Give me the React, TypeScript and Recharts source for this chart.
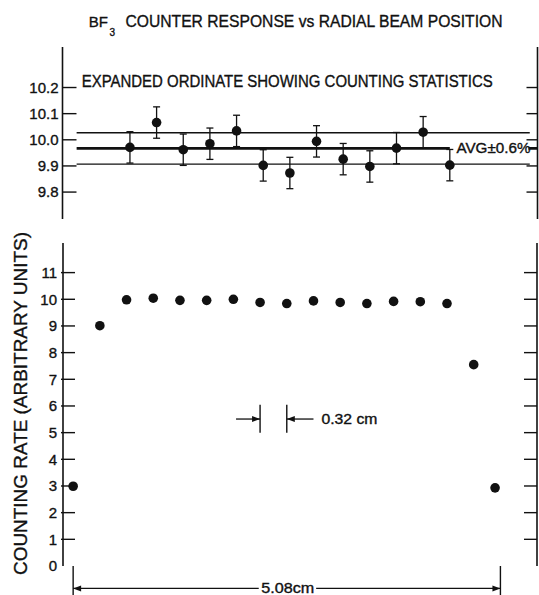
import React from "react";
import {
  ComposedChart,
  Scatter,
  Line,
  XAxis,
  YAxis,
  ErrorBar,
  ReferenceLine,
  ReferenceDot,
} from "recharts";

// expanded ordinate panel: positions 2..14 (tick units, 0.3175 cm each)
const statPos = [2, 3, 4, 5, 6, 7, 8, 9, 10, 11, 12, 13, 14];
const statRate = [9.971, 10.066, 9.962, 9.985, 10.034, 9.902, 9.873, 9.994, 9.926, 9.898, 9.968, 10.029, 9.903];
const statErr = [0.06, 0.06, 0.06, 0.06, 0.06, 0.06, 0.06, 0.06, 0.06, 0.06, 0.06, 0.06, 0.06];

const avgRate = 9.967;
const avgHigh = 10.027;
const avgLow = 9.907;
const bandSpan = [0, 17];
const avgSpan = [0, 14];
const avgStubSpan = [16.95, 17.29];

// full radial scan
const beamPos = [0, 1, 2, 3, 4, 5, 6, 7, 8, 9, 10, 11, 12, 13, 14, 15, 15.8];
const beamRate = [2.99, 9.01, 9.98, 10.04, 9.96, 9.96, 10.0, 9.88, 9.84, 9.94, 9.88, 9.84, 9.92, 9.91, 9.84, 7.55, 2.93];

const posTicks = [0, 1, 2, 3, 4, 5, 6, 7, 8, 9, 10, 11, 12, 13, 14, 15, 16, 17];
const statTicks = [9.8, 9.9, 10.0, 10.1, 10.2];
const rateTicks = [0, 1, 2, 3, 4, 5, 6, 7, 8, 9, 10, 11];

const statData = statPos.map((x, i) => ({ x, y: statRate[i], err: statErr[i] }));
const beamData = beamPos.map((x, i) => ({ x, y: beamRate[i] }));
const seg = (span: number[], y: number) => span.map((x) => ({ x, y }));

const FONT = "'Liberation Sans', Arial, sans-serif";
const INK = "#111";
const TM = 4;
// slight outline so the lettering is as heavy as the inked original
const heavy = { stroke: INK, strokeWidth: 0.35 };

const dot = (p: any) => <circle cx={p.cx} cy={p.cy} r={4.8} fill={INK} />;

function leftTick(len: number, fs: number, fmt: (v: number) => string) {
  return (p: any) => {
    const v = p.payload.value;
    const ax = p.x + TM;
    return (
      <g>
        {v !== 0 && <line x1={ax} x2={ax + len} y1={p.y} y2={p.y} stroke={INK} strokeWidth={1.4} />}
        <text x={p.x} y={p.y} dy={fs * 0.36} textAnchor="end" fontSize={fs} fontFamily={FONT} fill={INK} {...heavy}>
          {fmt(v)}
        </text>
      </g>
    );
  };
}

function rightTick(len: number) {
  return (p: any) => {
    const ax = p.x - TM;
    if (p.payload.value === 0) return <g />;
    return <line x1={ax - len} x2={ax} y1={p.y} y2={p.y} stroke={INK} strokeWidth={1.4} />;
  };
}

function bottomTick(len: number) {
  return (p: any) => {
    const ay = p.y - TM;
    return <line x1={p.x} x2={p.x} y1={ay} y2={ay - len} stroke={INK} strokeWidth={1.4} />;
  };
}

function topTick(len: number) {
  return (p: any) => {
    const ay = p.y + TM;
    return <line x1={p.x} x2={p.x} y1={ay} y2={ay + len} stroke={INK} strokeWidth={1.4} />;
  };
}

const arrow = (dir: number) => (p: any) => (
  <path d={`M${p.cx},${p.cy} l${-8 * dir},-3 l0,6 z`} fill={INK} />
);

const note = (txt: string, anchor: string, len: number) => (p: any) => (
  <text
    x={p.cx}
    y={p.cy}
    dy={5}
    textAnchor={anchor}
    fontSize={14}
    fontFamily={FONT}
    fill={INK}
    {...heavy}
    textLength={len}
    lengthAdjust="spacingAndGlyphs"
  >
    {txt}
  </text>
);

const axisStyle = { stroke: INK, strokeWidth: 1.6 };

function StatsPanel() {
  return (
    <ComposedChart width={539} height={240} margin={{ top: 47, right: 0, bottom: 21, left: 0 }}>
      <XAxis
        xAxisId={0}
        type="number"
        dataKey="x"
        domain={[-0.53, 17.29]}
        allowDataOverflow
        ticks={posTicks}
        interval={0}
        height={0}
        tickSize={0}
        tickMargin={TM}
        tickLine={false}
        axisLine={axisStyle}
        tick={bottomTick(12)}
      />
      <XAxis
        xAxisId="top"
        orientation="top"
        type="number"
        domain={[-0.53, 17.29]}
        allowDataOverflow
        ticks={posTicks}
        interval={0}
        height={0}
        tickSize={0}
        tickMargin={TM}
        tickLine={false}
        axisLine={axisStyle}
        tick={topTick(12)}
      />
      <YAxis
        yAxisId={0}
        type="number"
        domain={[9.697, 10.355]}
        allowDataOverflow
        ticks={statTicks}
        interval={0}
        width={62.5}
        tickSize={0}
        tickMargin={TM}
        tickLine={false}
        axisLine={axisStyle}
        tick={leftTick(14, 15, (v) => v.toFixed(1))}
      />
      <YAxis
        yAxisId="r"
        orientation="right"
        type="number"
        domain={[9.697, 10.355]}
        allowDataOverflow
        ticks={statTicks}
        interval={0}
        width={1.5}
        tickSize={0}
        tickMargin={TM}
        tickLine={false}
        axisLine={axisStyle}
        tick={rightTick(11)}
      />
      <Line data={seg(bandSpan, avgHigh)} dataKey="y" stroke={INK} strokeWidth={1.3} dot={false} isAnimationActive={false} />
      <Line data={seg(bandSpan, avgLow)} dataKey="y" stroke={INK} strokeWidth={1.3} dot={false} isAnimationActive={false} />
      <Line data={seg(avgSpan, avgRate)} dataKey="y" stroke={INK} strokeWidth={2.6} dot={false} isAnimationActive={false} />
      <Line data={seg(avgStubSpan, avgRate)} dataKey="y" stroke={INK} strokeWidth={2.6} dot={false} isAnimationActive={false} />
      <Scatter data={statData} dataKey="y" shape={dot} isAnimationActive={false}>
        <ErrorBar dataKey="err" direction="y" width={3.5} stroke={INK} strokeWidth={1.3} isAnimationActive={false} />
      </Scatter>
      <ReferenceDot x={14.25} y={avgRate} r={0} ifOverflow="visible" shape={note("AVG±0.6%", "start", 74)} />
    </ComposedChart>
  );
}

function ProfilePanel() {
  return (
    <ComposedChart width={539} height={365} margin={{ top: 13, right: 0, bottom: 29, left: 0 }}>
      <XAxis
        type="number"
        dataKey="x"
        domain={[-0.38, 17.37]}
        allowDataOverflow
        ticks={posTicks}
        interval={0}
        height={0}
        tickSize={0}
        tickMargin={TM}
        tickLine={false}
        axisLine={axisStyle}
        tick={bottomTick(14)}
      />
      <YAxis
        yAxisId={0}
        type="number"
        domain={[0, 12.11]}
        allowDataOverflow
        ticks={rateTicks}
        interval={0}
        width={63}
        tickSize={0}
        tickMargin={6}
        tickLine={false}
        axisLine={axisStyle}
        tick={leftTick(14, 15, (v) => String(v))}
      />
      <YAxis
        yAxisId="r"
        orientation="right"
        type="number"
        domain={[0, 12.11]}
        allowDataOverflow
        ticks={rateTicks}
        interval={0}
        width={2}
        tickSize={0}
        tickMargin={TM}
        tickLine={false}
        axisLine={axisStyle}
        tick={rightTick(13)}
      />
      <Scatter data={beamData} dataKey="y" shape={dot} isAnimationActive={false} />

      {/* 0.32 cm step marker */}
      <ReferenceLine segment={[{ x: 7, y: 5.0 }, { x: 7, y: 6.05 }]} stroke={INK} strokeWidth={1.4} ifOverflow="visible" />
      <ReferenceLine segment={[{ x: 8, y: 5.0 }, { x: 8, y: 6.05 }]} stroke={INK} strokeWidth={1.4} ifOverflow="visible" />
      <ReferenceLine segment={[{ x: 6.1, y: 5.51 }, { x: 7, y: 5.51 }]} stroke={INK} strokeWidth={1.3} ifOverflow="visible" />
      <ReferenceLine segment={[{ x: 8, y: 5.51 }, { x: 9.0, y: 5.51 }]} stroke={INK} strokeWidth={1.3} ifOverflow="visible" />
      <ReferenceDot x={7} y={5.51} r={0} ifOverflow="visible" shape={arrow(1)} />
      <ReferenceDot x={8} y={5.51} r={0} ifOverflow="visible" shape={arrow(-1)} />
      <ReferenceDot x={9.3} y={5.51} r={0} ifOverflow="visible" shape={note("0.32 cm", "start", 56)} />

      {/* 5.08 cm span marker */}
      <ReferenceLine segment={[{ x: 0, y: 0 }, { x: 0, y: -1.2 }]} stroke={INK} strokeWidth={1.4} ifOverflow="visible" />
      <ReferenceLine segment={[{ x: 16, y: 0 }, { x: 16, y: -1.2 }]} stroke={INK} strokeWidth={1.4} ifOverflow="visible" />
      <ReferenceLine segment={[{ x: 0, y: -0.84 }, { x: 6.95, y: -0.84 }]} stroke={INK} strokeWidth={1.2} ifOverflow="visible" />
      <ReferenceLine segment={[{ x: 9.1, y: -0.84 }, { x: 16, y: -0.84 }]} stroke={INK} strokeWidth={1.2} ifOverflow="visible" />
      <ReferenceDot x={0} y={-0.84} r={0} ifOverflow="visible" shape={arrow(-1)} />
      <ReferenceDot x={16} y={-0.84} r={0} ifOverflow="visible" shape={arrow(1)} />
      <ReferenceDot x={8.04} y={-0.84} r={0} ifOverflow="visible" shape={note("5.08cm", "middle", 53)} />
    </ComposedChart>
  );
}

export default function App() {
  return (
    <div style={{ position: "absolute", left: 0, top: 0, width: 539, height: 595, background: "#fff", overflow: "hidden" }}>
      <div style={{ position: "absolute", left: 0, top: 0 }}>
        <StatsPanel />
      </div>
      <div style={{ position: "absolute", left: 0, top: 230 }}>
        <ProfilePanel />
      </div>
      <svg width={539} height={595} style={{ position: "absolute", left: 0, top: 0, pointerEvents: "none" }}>
        <g fontFamily={FONT} fill={INK} {...heavy}>
          <text x={88.7} y={26.8} fontSize={15}>BF</text>
          <text x={109.5} y={36} fontSize={10}>3</text>
          <text x={125.5} y={26.8} fontSize={17} textLength={377} lengthAdjust="spacingAndGlyphs">
            COUNTER RESPONSE vs RADIAL BEAM POSITION
          </text>
          <text x={81.7} y={86.7} fontSize={16} textLength={411} lengthAdjust="spacingAndGlyphs">
            EXPANDED ORDINATE SHOWING COUNTING STATISTICS
          </text>
          <text
            transform="translate(27.3,403.5) rotate(-90)"
            textAnchor="middle"
            fontSize={18}
            textLength={343}
            lengthAdjust="spacingAndGlyphs"
          >
            COUNTING RATE (ARBITRARY UNITS)
          </text>
        </g>
      </svg>
    </div>
  );
}
